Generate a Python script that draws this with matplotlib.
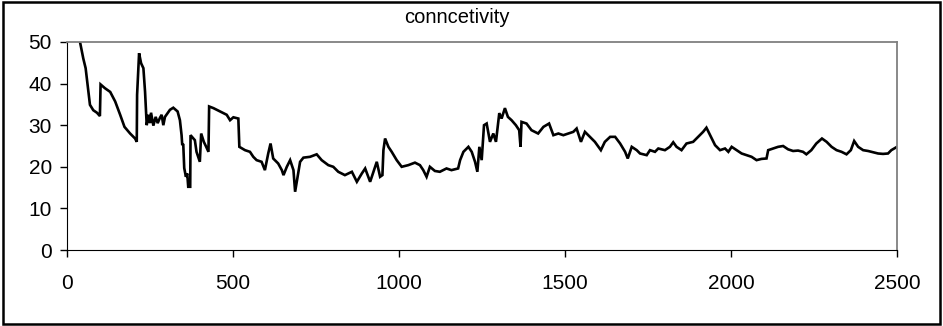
import matplotlib
matplotlib.use("Agg")
import matplotlib.pyplot as plt
from matplotlib.patches import Rectangle

plt.rcParams['font.family'] = ['Liberation Sans', 'DejaVu Sans']

# connectivity per step
steps = [39, 44, 49, 56, 62, 66, 69, 79, 90, 99, 101, 114, 130, 145, 160, 173,
         190, 205, 210, 211, 217, 223, 230, 235, 240, 245, 250, 253, 260, 267,
         273, 280, 285, 290, 295, 310, 320, 333, 340, 345, 347, 350, 353, 358,
         362, 365, 371, 372, 385, 390, 400, 404, 412, 418, 426, 428, 441, 461,
         481, 491, 501, 516, 519, 536, 551, 561, 571, 586, 596, 606, 613, 621,
         636, 647, 652, 662, 672, 682, 687, 697, 702, 712, 732, 752, 767, 787,
         802, 817, 837, 858, 873, 888, 898, 913, 923, 933, 943, 950, 953, 958,
         968, 978, 993, 1008, 1028, 1048, 1063, 1073, 1083, 1093, 1108, 1123,
         1143, 1158, 1178, 1184, 1194, 1209, 1219, 1229, 1236, 1242, 1249, 1256,
         1264, 1274, 1284, 1292, 1302, 1309, 1319, 1328, 1339, 1352, 1362, 1366,
         1369, 1384, 1399, 1419, 1435, 1452, 1465, 1480, 1495, 1510, 1525, 1535,
         1548, 1560, 1575, 1590, 1608, 1620, 1636, 1651, 1666, 1681, 1689, 1701,
         1716, 1726, 1746, 1756, 1771, 1781, 1801, 1816, 1826, 1836, 1851, 1866,
         1886, 1901, 1916, 1926, 1937, 1952, 1967, 1982, 1992, 2002, 2017, 2032,
         2047, 2062, 2077, 2092, 2107, 2112, 2127, 2142, 2157, 2172, 2187, 2202,
         2217, 2227, 2242, 2257, 2274, 2288, 2303, 2318, 2333, 2348, 2361, 2371,
         2383, 2398, 2413, 2428, 2443, 2458, 2473, 2483, 2498]
conn = [50, 48, 46, 43.7, 39.7, 37, 34.9, 33.6, 33, 32.2, 39.8, 38.9, 38, 35.7,
        32.5, 29.6, 28, 26.8, 26, 37.3, 47.3, 44.9, 43.7, 38, 30, 32.5, 30.5, 33,
        29.9, 32, 30.5, 31.8, 32.5, 30, 32, 33.7, 34.2, 33.3, 31.2, 27.6, 25.2,
        25.5, 19.7, 17.6, 18.4, 15.2, 15.2, 27.6, 26.4, 23.6, 21.2, 28, 26, 25,
        23.6, 34.5, 34.1, 33.3, 32.5, 31.2, 31.9, 31.6, 24.8, 24, 23.6, 22.4,
        21.6, 21.2, 19.2, 23.2, 25.6, 22, 20.8, 19.2, 18, 20, 21.6, 19.2, 14,
        18.8, 21.2, 22.2, 22.4, 23, 21.6, 20.4, 20, 18.8, 18, 18.8, 16.4, 18.4,
        19.6, 16.4, 18.8, 21.2, 17.6, 18, 24, 26.8, 24.8, 23.6, 21.6, 20, 20.4,
        21, 20.4, 19.2, 17.6, 20, 19, 18.8, 19.6, 19.2, 19.6, 21.6, 23.6, 24.8,
        23.6, 21.2, 18.8, 24.8, 21.6, 30, 30.4, 26, 28, 26, 32.9, 31.6, 34.1,
        32, 31.2, 30, 28.8, 24.8, 30.8, 30.4, 28.8, 28, 29.6, 30.4, 27.6, 28,
        27.6, 28, 28.4, 29.2, 26, 28.4, 27.2, 26, 24, 26, 27.2, 27.2, 25.6,
        23.6, 22, 24.8, 24, 23.2, 22.8, 24, 23.6, 24.4, 24, 24.8, 25.9, 24.8,
        24, 25.6, 26, 27.2, 28.4, 29.4, 27.6, 25.2, 24, 24.4, 23.6, 24.8, 24,
        23.2, 22.8, 22.4, 21.6, 21.9, 22, 24, 24.4, 24.8, 25, 24.2, 23.8, 23.9,
        23.6, 23, 24, 25.6, 26.8, 26, 24.8, 24, 23.6, 23, 24, 26.2, 24.8, 24,
        23.8, 23.5, 23.2, 23.1, 23.2, 24, 24.7]

x_ticks = [0, 500, 1000, 1500, 2000, 2500]
y_ticks = [0, 10, 20, 30, 40, 50]

fig = plt.figure(figsize=(9.43, 3.26), dpi=100)
ax = fig.add_axes([0.0711, 0.2331, 0.8801, 0.6381])

ax.plot(steps, conn, color='black', linewidth=1.9, solid_joinstyle='miter')

ax.set_xlim(0, 2500)
ax.set_ylim(0, 50)
ax.set_xticks(x_ticks)
ax.set_yticks(y_ticks)

for side in ['top', 'right']:
    ax.spines[side].set_color('#808080')
    ax.spines[side].set_linewidth(1.3)
for side in ['left', 'bottom']:
    ax.spines[side].set_color('black')
ax.tick_params(axis='both', direction='out', length=5, width=1, labelsize=15)
ax.tick_params(axis='x', pad=12)
ax.tick_params(axis='y', pad=6)

fig.text(0.4846, 0.946, 'conncetivity', ha='center', va='center', fontsize=14.5)

# chart border
fig.patches.append(Rectangle((0.003, 0.005), 0.994, 0.99, transform=fig.transFigure,
                             fill=False, edgecolor='black', linewidth=1.8))

fig.savefig('out.png', dpi=100)
